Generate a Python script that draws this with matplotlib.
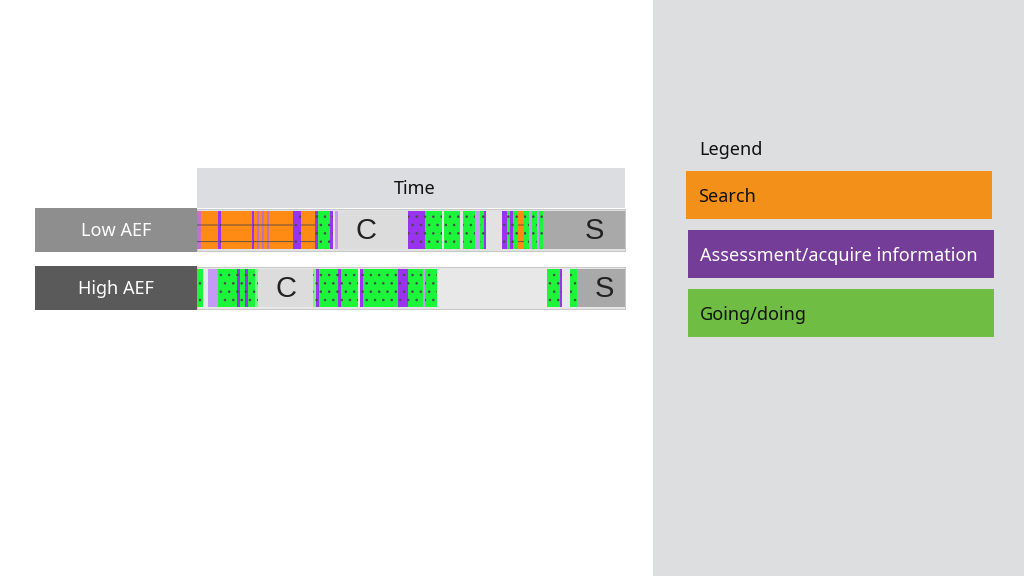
import matplotlib.pyplot as plt
from matplotlib.patches import Rectangle

plt.rcParams['font.family'] = ['Noto Sans', 'DejaVu Sans']
plt.rcParams['hatch.linewidth'] = 0.6

# timeline segments, time in % of the session (start, end, kind)
low_aef = [
    (0.0, 0.9, 'mauve'), (0.9, 4.9, 'search'), (4.9, 5.6, 'assess'),
    (5.6, 12.9, 'search'), (12.9, 13.3, 'assess'), (13.3, 17.1, 'search'),
    (14.0, 14.5, 'mauve'), (15.2, 15.7, 'mauve'), (16.3, 16.8, 'mauve'),
    (17.1, 22.4, 'search'), (22.4, 24.3, 'assess'), (24.3, 27.6, 'search'),
    (27.6, 28.3, 'assess'), (28.3, 31.1, 'doing'), (31.1, 31.8, 'assess'),
    (32.2, 32.9, 'lav'), (49.3, 53.3, 'assess'), (53.3, 57.2, 'doing'),
    (57.7, 61.4, 'doing'), (62.1, 65.0, 'doing'), (65.0, 66.1, 'lav'),
    (66.1, 67.1, 'doing'), (67.1, 67.5, 'assess'), (71.3, 72.4, 'assess'),
    (72.4, 73.1, 'doing'), (73.1, 73.8, 'assess'), (73.8, 75.0, 'doing'),
    (75.0, 76.4, 'search'), (76.4, 77.6, 'doing'), (77.6, 78.3, 'lav'),
    (78.3, 79.4, 'doing'), (79.4, 79.9, 'lav'), (79.9, 80.8, 'doing'),
]
high_aef = [
    (0.0, 1.4, 'doing'), (2.6, 4.9, 'lav'), (4.9, 9.3, 'doing'),
    (9.3, 10.0, 'assess'), (10.0, 11.2, 'doing'), (11.2, 11.9, 'assess'),
    (11.9, 13.6, 'doing'), (13.6, 14.3, 'lightgreen'), (27.1, 27.8, 'lightgreen'),
    (27.8, 28.5, 'assess'), (28.5, 32.9, 'doing'), (32.9, 33.6, 'assess'),
    (33.6, 37.6, 'doing'), (38.1, 38.8, 'assess'), (38.8, 46.9, 'doing'),
    (46.9, 49.3, 'assess'), (49.3, 52.8, 'doing'), (52.8, 53.3, 'lav'),
    (53.3, 56.1, 'doing'), (81.8, 84.8, 'doing'), (84.8, 85.3, 'assess'),
    (87.1, 88.8, 'doing'),
]
# shaded intervals with their letter (start, end, letter, letter position)
low_marks = [(32.9, 49.3, 'C', 39.5), (80.8, 100.0, 'S', 92.8)]
high_marks = [(14.3, 27.1, 'C', 20.8), (88.8, 100.0, 'S', 95.1)]

row_names = ['Low AEF', 'High AEF']
legend_names = ['Search', 'Assessment/acquire information', 'Going/doing']
legend_colors = ['#f39019', '#743d98', '#70bd44']

seg_color = {'search': '#ff8a14', 'assess': '#9933ee', 'doing': '#1df53a',
             'lav': '#c49af5', 'mauve': '#c86fc0', 'lightgreen': '#7af58c'}
seg_hatch = {'search': '-', 'assess': '..', 'doing': '..',
             'lav': '', 'mauve': '-', 'lightgreen': '..'}

fig = plt.figure(figsize=(10.24, 5.76), dpi=100)
fig.patch.set_facecolor('white')

# right hand panel
fig.patches.append(Rectangle((653 / 1024, 0), 1 - 653 / 1024, 1, transform=fig.transFigure,
                             facecolor='#dddee0', edgecolor='none', zorder=0))
fig.text(699 / 1024, 1 - 150 / 576, 'Legend', fontsize=13, va='center', ha='left', color='#111111')
legend_y = [171, 230, 289]
legend_x = [686, 688, 688]
for name, col, yy, xx in zip(legend_names, legend_colors, legend_y, legend_x):
    fig.patches.append(Rectangle((xx / 1024, 1 - (yy + 48) / 576), 306 / 1024, 48 / 576,
                                 transform=fig.transFigure, facecolor=col, edgecolor='none'))
    tc = 'white' if col == '#743d98' else '#111111'
    fig.text((xx + 12) / 1024, 1 - (yy + 26) / 576, name, fontsize=13, va='center', ha='left', color=tc)

# header and row labels
fig.patches.append(Rectangle((197 / 1024, 1 - 208 / 576), 428 / 1024, 40 / 576,
                             transform=fig.transFigure, facecolor='#dcdde0', edgecolor='none'))
fig.text(415 / 1024, 1 - 189 / 576, 'Time', fontsize=13, ha='center', va='center', color='#111111')
label_y = [208, 266]
label_col = ['#8e8e8e', '#5a5a5a']
for name, yy, col in zip(row_names, label_y, label_col):
    fig.patches.append(Rectangle((35 / 1024, 1 - (yy + 44) / 576), 162 / 1024, 44 / 576,
                                 transform=fig.transFigure, facecolor=col, edgecolor='none'))
    fig.text(116 / 1024, 1 - (yy + 23) / 576, name, fontsize=13, ha='center', va='center', color='white')

# timeline
ax = fig.add_axes([197 / 1024, 1 - 309 / 576, 428 / 1024, 100 / 576])
ax.set_xlim(0, 100)
ax.set_ylim(0, 100)
ax.axis('off')

rows = [(low_aef, low_marks, 58, '#e2e2e2'), (high_aef, high_marks, 0, '#e8e8e8')]
for segs, marks, y0, bg in rows:
    ax.broken_barh([(0, 100)], (y0, 42), facecolors=bg, edgecolor='#c8c8c8', linewidth=0.8)
    for a, b, letter, lx in marks:
        fc = '#a9a9a9' if letter == 'S' else '#dcdcdc'
        ax.broken_barh([(a, b - a)], (y0 + 2, 38), facecolors=fc, edgecolor='none')
        ax.text(lx, y0 + 20, letter, fontsize=21, family='Liberation Sans',
                ha='center', va='center', color='#222222')
    for a, b, kind in segs:
        ax.broken_barh([(a, b - a)], (y0 + 2, 38), facecolors=seg_color[kind],
                       edgecolor='#4a4a4a', linewidth=0, hatch=seg_hatch[kind])

fig.savefig('out.png', dpi=100)
